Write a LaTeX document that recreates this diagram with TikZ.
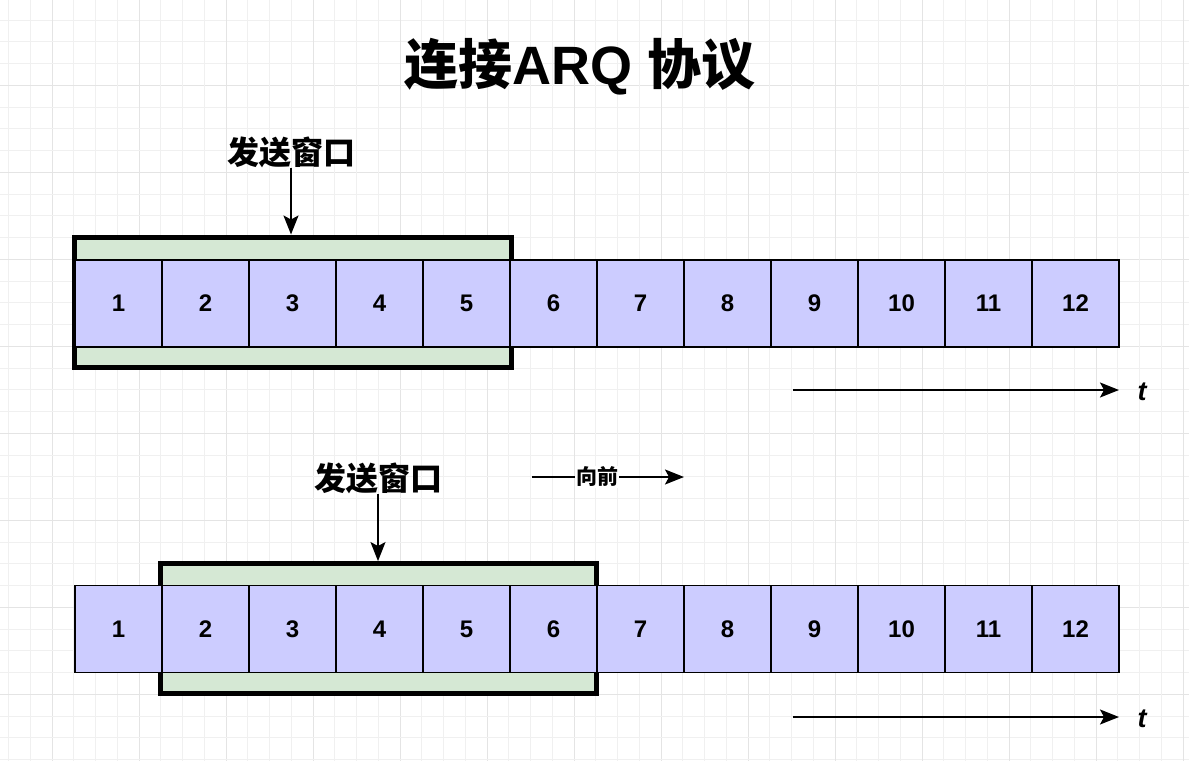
\documentclass[tikz,border=0pt]{standalone}
\usepackage{fontspec}
\setmainfont{Liberation Sans}
\newfontfamily\cjk{Noto Sans CJK SC}
\usetikzlibrary{arrows.meta}
\definecolor{cellblue}{HTML}{CCCCFF}
\definecolor{wingreen}{HTML}{D5E8D4}
\definecolor{gridminor}{HTML}{F0F0F0}
\definecolor{gridmajor}{HTML}{E4E4E4}
\tikzset{
  cell/.style={draw=black, line width=1.8pt, fill=cellblue, minimum width=87pt, minimum height=87pt, inner sep=0pt, font=\bfseries\fontsize{24}{28}\selectfont},
  win/.style={draw=black, line width=5pt, fill=wingreen, inner sep=0pt},
  lab/.style={font=\cjk\bfseries\fontsize{32}{36}\selectfont, inner sep=0pt},
  arr/.style={line width=1.7pt, -{Stealth[length=19pt,width=15pt,inset=4pt]}},
  tlab/.style={font=\bfseries\itshape\fontsize{27}{30}\selectfont, inner sep=0pt}
}
\begin{document}
\begin{tikzpicture}[x=1pt,y=-1pt]
\useasboundingbox (0,0) rectangle (1189,761);
\fill[white] (0,0) rectangle (1189,761);
% grid
\foreach \k in {0,...,55} {
  \pgfmathsetmacro{\gx}{8.5+21.75*\k}
  \pgfmathsetmacro{\gy}{-1.75+21.75*\k}
  \pgfmathtruncatemacro{\m}{mod(\k,4)}
  \ifnum\m=2
    \draw[gridmajor, line width=0.8pt] (\gx,0) -- (\gx,761);
  \else
    \draw[gridminor, line width=0.8pt] (\gx,0) -- (\gx,761);
  \fi
  \pgfmathtruncatemacro{\n}{mod(\k,4)}
  \ifnum\n=0
    \draw[gridmajor, line width=0.8pt] (0,\gy) -- (1189,\gy);
  \else
    \draw[gridminor, line width=0.8pt] (0,\gy) -- (1189,\gy);
  \fi
}
% title
\node[font=\bfseries\fontsize{54}{60}\selectfont, inner sep=0pt] (title) at (580,67) {{\cjk 连接}ARQ {\cjk 协议}};
% top window
\node[win, minimum width=437pt, minimum height=130pt] (w1) at (292.5,302) {};
\foreach \i in {1,...,12} {
  \node[cell] (a\i) at ({75+87*(\i-0.5)},303.5) {\raisebox{-3pt}{\i}};
}
\node[lab] (l1) at (291,152) {发送窗口};
\draw[arr] (l1.south) -- (l1.south |- w1.north);
\coordinate (t1s) at (793,390);
\coordinate (t1e) at (1119,390);
\draw[arr] (t1s) -- (t1e);
\node[tlab] (t1) at (1142,392) {t};
% forward arrow
\coordinate (f1) at (532,477);
\coordinate (f2) at (684,477);
\draw[arr] (f1) -- (f2) node[pos=0.43, fill=white, inner sep=1pt, font=\cjk\bfseries\fontsize{21}{24}\selectfont] (fw) {向前};
% bottom window
\node[win, minimum width=436pt, minimum height=129.5pt] (w2) at (378,628.3) {};
\foreach \i in {1,...,12} {
  \node[cell] (b\i) at ({75+87*(\i-0.5)},629) {\raisebox{-3pt}{\i}};
}
\node[lab] (l2) at (378,478) {发送窗口};
\draw[arr] (l2.south) -- (l2.south |- w2.north);
\coordinate (t2s) at (793,717);
\coordinate (t2e) at (1119,717);
\draw[arr] (t2s) -- (t2e);
\node[tlab] (t2) at (1142,719) {t};
\end{tikzpicture}
\end{document}
